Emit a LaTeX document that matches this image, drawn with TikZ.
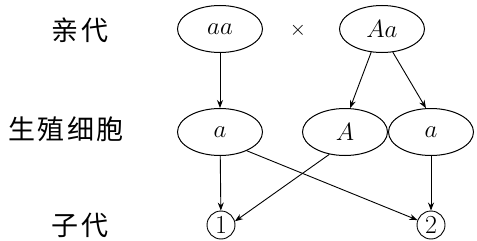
\documentclass[tikz,border=0pt]{standalone}
\usepackage{fontspec}
\usetikzlibrary{shapes.geometric,arrows.meta}
\newfontfamily\cjk{Noto Sans CJK SC}[LetterSpace=8]
\begin{document}
\begin{tikzpicture}[x=1pt,y=-1pt,
  gen/.style={draw,ellipse,line width=1pt,minimum width=85pt,minimum height=47pt,inner sep=0pt,font=\fontsize{30}{30}\selectfont},
  lbl/.style={font=\cjk\fontsize{27}{27}\selectfont},
  kid/.style={draw,circle,line width=0.9pt,minimum size=28pt,inner sep=0pt,font=\fontsize{26}{26}\selectfont},
  arr/.style={line width=0.9pt,-{Stealth[length=8pt,width=6pt]}}]
\useasboundingbox (0,0) rectangle (477,241);
\node[lbl] (l1) at (80,30) {亲代};
\node[lbl] (l2) at (66,129) {生殖细胞};
\node[lbl] (l3) at (80,225) {子代};
\node[gen] (p1) at (220,29) {$aa$};
\node[font=\fontsize{22}{22}\selectfont] (x) at (298,30) {$\times$};
\node[gen] (p2) at (382,29) {$Aa$};
\node[gen] (g1) at (220,132) {$a$};
\node[gen] (g2) at (345,132) {$A$};
\node[gen] (g3) at (431,132) {$a$};
\node[kid] (c1) at (221,225) {1};
\node[kid] (c2) at (431,225) {2};
\draw[arr] (p1) -- (g1);
\draw[arr] (p2.-115) -- (g2.78);
\draw[arr] (p2.-65) -- (g3.102);
\draw[arr] (g1) -- (c1);
\draw[arr] (g3) -- (c2);
\draw[arr] (g1.-35) -- (c2.160);
\draw[arr] (g2.-125) -- (c1.15);
\end{tikzpicture}
\end{document}
